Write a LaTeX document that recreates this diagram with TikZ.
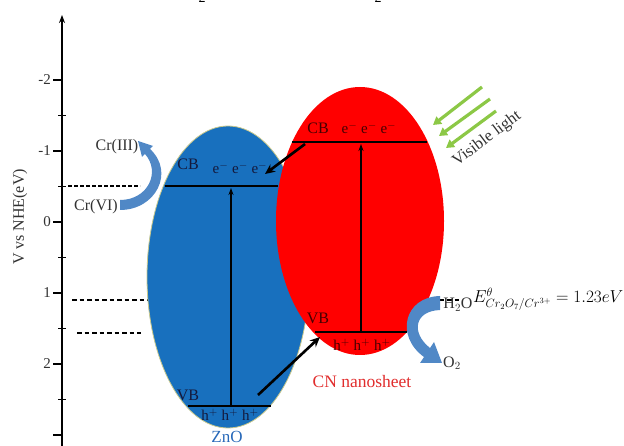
\documentclass[tikz,border=0pt]{standalone}
\usepackage{fontspec}
\setmainfont{Liberation Serif}
\usetikzlibrary{arrows.meta}
\definecolor{znoblue}{RGB}{24,112,190}
\definecolor{znoedge}{RGB}{200,200,140}
\definecolor{cnred}{RGB}{255,0,0}
\definecolor{flowblue}{RGB}{80,136,198}
\definecolor{lightgreen}{RGB}{140,200,70}
\definecolor{txtgray}{RGB}{50,50,50}
\definecolor{cnlabel}{RGB}{225,45,45}
\definecolor{znolabel}{RGB}{40,105,185}
\definecolor{darknavy}{RGB}{20,25,60}
\definecolor{darkred}{RGB}{70,0,0}
\tikzset{
  lbl/.style={inner sep=0pt, font=\fontsize{16}{19}\selectfont},
  ticklbl/.style={inner sep=0pt, anchor=east, font=\fontsize{15}{18}\selectfont, text=txtgray},
  band/.style={line width=2.6pt, black},
  excite/.style={line width=1.3pt, black, -{Stealth[length=7pt,width=5pt]}},
  transfer/.style={line width=2.6pt, black, -{Stealth[length=10pt,width=9pt]}},
  levelline/.style={line width=1.4pt, black, dash pattern=on 4.5pt off 3pt},
  greenarrow/.style={line width=3.2pt, lightgreen, -{Triangle[length=8pt,width=9pt]}},
  majortick/.style={line width=1.5pt},
  minortick/.style={line width=1.5pt}
}
\begin{document}
\begin{tikzpicture}[x=1pt,y=-1pt]
\useasboundingbox (0,0) rectangle (624,446);

% cropped caption fragments at the top
\node[lbl, anchor=south, font=\fontsize{14}{16}\selectfont] (fragA) at (202,3) {2};
\node[lbl, anchor=south, font=\fontsize{14}{16}\selectfont] (fragB) at (378,3) {2};

% axis
\coordinate (axbot) at (62,446);
\coordinate (axtop) at (62,15);
\draw[line width=2pt, -{Stealth[length=8pt,width=6pt]}] (axbot) -- (axtop);
\foreach \v/\t in {-2/-2,-1/-1,0/0,1/1,2/2}{
  \draw[majortick] (53,222+71*\v) -- (62,222+71*\v);
  \node[ticklbl] (tick\v) at (51,222+71*\v) {\t};
}
\draw[majortick] (53,435) -- (62,435);
\foreach \v in {-1.5,-0.5,0.5,1.5,2.5}{
  \draw[minortick] (58,222+71*\v) -- (66,222+71*\v);
}
\node[lbl, rotate=90, text=txtgray] (ylab) at (20,217) {V vs NHE(eV)};

% dashed reference levels
\coordinate (d1a) at (68,186); \coordinate (d1b) at (140,186);
\coordinate (d2a) at (72,300); \coordinate (d2b) at (462,300);
\coordinate (d3a) at (77,333); \coordinate (d3b) at (141,333);
\draw[levelline, dash pattern=on 3.5pt off 2.5pt, line width=1.1pt] (d1a) -- (d1b);
\draw[levelline] (d2a) -- (d2b);
\draw[levelline] (d3a) -- (d3b);

% ellipses
\fill[znoblue, draw=znoedge, line width=0.8pt] (228,277) ellipse [x radius=81, y radius=151];
\fill[cnred] (360,221) ellipse [x radius=84, y radius=134];

% band edges
\coordinate (zcbL) at (165,186); \coordinate (zcbR) at (278,186);
\coordinate (zvbL) at (188,406); \coordinate (zvbR) at (271,406);
\coordinate (ccbL) at (292,142); \coordinate (ccbR) at (427,142);
\coordinate (cvbL) at (315,332); \coordinate (cvbR) at (407,332);
\draw[band] (zcbL) -- (zcbR);
\draw[band] (zvbL) -- (zvbR);
\draw[band] (ccbL) -- (ccbR);
\draw[band] (cvbL) -- (cvbR);

% excitation arrows
\draw[excite] (231,405) -- (231,188);
\draw[excite] (361,331) -- (361,144);

% interfacial transfer
\coordinate (t1s) at (305,144); \coordinate (t1e) at (265,174);
\coordinate (t2s) at (258,395); \coordinate (t2e) at (320,337);
\draw[transfer] (t1s) -- (t1e);
\draw[transfer] (t2s) -- (t2e);

% labels in bands
\node[lbl, text=darknavy] (zcb) at (188,164) {CB};
\node[lbl, text=darknavy, font=\fontsize{15}{18}\selectfont] (zel) at (240,168) {e$^{-}$ e$^{-}$ e$^{-}$};
\node[lbl, text=darknavy] (zvb) at (188,395) {VB};
\node[lbl, text=darknavy, font=\fontsize{15}{18}\selectfont] (zh) at (230,415) {h$^{+}$ h$^{+}$ h$^{+}$};
\node[lbl, text=darkred] (ccb) at (318,128) {CB};
\node[lbl, text=darkred, font=\fontsize{15}{18}\selectfont] (cel) at (369,128) {e$^{-}$ e$^{-}$ e$^{-}$};
\node[lbl, text=darkred] (cvb) at (318,318) {VB};
\node[lbl, text=darkred, font=\fontsize{15}{18}\selectfont] (ch) at (362,345) {h$^{+}$ h$^{+}$ h$^{+}$};

\node[lbl, text=znolabel, font=\fontsize{17}{20}\selectfont] (zno) at (227,437) {ZnO};
\node[lbl, text=cnlabel, font=\fontsize{17.5}{20}\selectfont] (cn) at (362,382) {CN nanosheet};

% Cr redox
\node[lbl, text=txtgray] (cr3) at (117,147) {Cr(III)};
\node[lbl, text=txtgray] (cr6) at (96,207) {Cr(VI)};
\fill[flowblue] (120,210) .. controls (156,210) and (175,172) .. (150,149)
  -- (153,146) -- (138,141) -- (142,157) -- (145,154)
  .. controls (161,172) and (148,200) .. (120,200) -- cycle;

% water oxidation
\node[lbl, text=txtgray] (h2o) at (458,305) {H$_2$O};
\node[lbl, text=txtgray] (o2) at (452,363) {O$_2$};
\fill[flowblue] (440,296) .. controls (404,297) and (395,336) .. (424,357)
  -- (420,363) -- (442,363) -- (434,342) -- (430,348)
  .. controls (411,333) and (414,311) .. (440,310) -- cycle;

% potential label
\node[inner sep=0pt, anchor=base west, font=\fontsize{16.6}{19}\selectfont] (eq) at (473,303)
  {$E^{\theta}_{Cr_2O_7/Cr^{3+}} = 1.23eV$};

% visible light
\coordinate (g1s) at (482,87);  \coordinate (g1e) at (433,125);
\coordinate (g2s) at (490,99);  \coordinate (g2e) at (439,136);
\coordinate (g3s) at (496,111); \coordinate (g3e) at (446,148);
\draw[greenarrow] (g1s) -- (g1e);
\draw[greenarrow] (g2s) -- (g2e);
\draw[greenarrow] (g3s) -- (g3e);
\node[lbl, text=txtgray, rotate=37, font=\fontsize{16.5}{19}\selectfont] (vis) at (487,139) {Visible light};
\end{tikzpicture}
\end{document}
